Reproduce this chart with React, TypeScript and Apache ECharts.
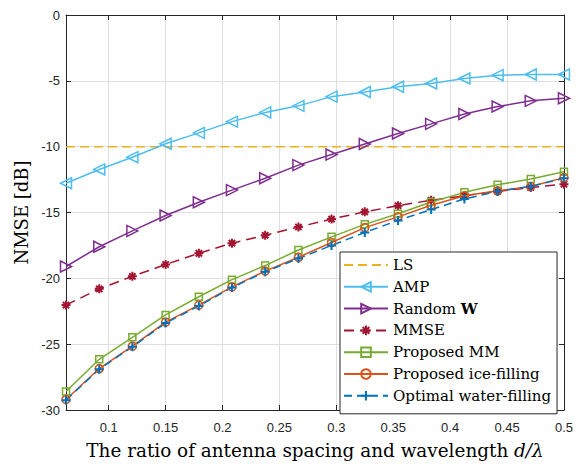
import React, { useEffect, useRef } from 'react';
import * as echarts from 'echarts';

const xValues = [0.0625, 0.0917, 0.1208, 0.15, 0.1792, 0.2083, 0.2375, 0.2667, 0.2958, 0.325, 0.3542, 0.3833, 0.4125, 0.4417, 0.4708, 0.5];
const lsValues = [-10, -10, -10, -10, -10, -10, -10, -10, -10, -10, -10, -10, -10, -10, -10, -10];
const ampValues = [-12.78, -11.73, -10.8, -9.78, -8.95, -8.1, -7.4, -6.9, -6.2, -5.85, -5.45, -5.2, -4.82, -4.57, -4.52, -4.52];
const randomWValues = [-19.1, -17.6, -16.4, -15.23, -14.22, -13.3, -12.4, -11.4, -10.6, -9.8, -9.0, -8.27, -7.52, -6.95, -6.52, -6.32];
const mmseValues = [-22.03, -20.8, -19.85, -18.95, -18.1, -17.33, -16.73, -16.1, -15.5, -14.95, -14.48, -14.07, -13.73, -13.4, -13.1, -12.85];
const mmValues = [-28.6, -26.15, -24.48, -22.78, -21.4, -20.1, -19.03, -17.85, -16.85, -15.9, -15.1, -14.2, -13.47, -12.9, -12.45, -11.9];
const iceValues = [-29.2, -26.85, -25.15, -23.33, -22.03, -20.65, -19.45, -18.4, -17.28, -16.15, -15.33, -14.45, -13.73, -13.35, -13.02, -12.35];
const waterValues = [-29.25, -26.9, -25.2, -23.4, -22.1, -20.7, -19.5, -18.5, -17.5, -16.52, -15.6, -14.78, -13.97, -13.4, -13.02, -12.4];
const xTickValues = [0.1, 0.15, 0.2, 0.25, 0.3, 0.35, 0.4, 0.45, 0.5];

const SERIF = '"DejaVu Serif", "Liberation Serif", serif';
const SANS = '"Liberation Sans", Arial, sans-serif';
const AXIS = '#262626';

const pair = (ys: number[]) => xValues.map((x, i) => [x, ys[i]]);

export default function App() {
  const ref = useRef<HTMLDivElement>(null);
  useEffect(() => {
    const chart = echarts.init(ref.current!, null, { renderer: 'svg' });
    const axisLine = { show: true, onZero: false, lineStyle: { color: AXIS, width: 1 } };
    const mk = (name: string, ys: number[], color: string, opts: any) => ({
      name,
      type: 'line',
      data: pair(ys),
      xAxisIndex: 0,
      yAxisIndex: 0,
      lineStyle: { color, width: 1.5, type: opts.dash || 'solid' },
      itemStyle: opts.itemStyle || { color: 'rgba(255,255,255,0)', borderColor: color, borderWidth: 1.5 },
      symbol: opts.symbol,
      symbolSize: opts.symbolSize,
      symbolRotate: opts.symbolRotate || 0,
      showSymbol: true,
      color,
    });
    const plusPath = 'path://M0,-1L0,1M-1,0L1,0';
    const starPath = 'path://M0,-1L0,1M-1,0L1,0M-0.7,-0.7L0.7,0.7M-0.7,0.7L0.7,-0.7';
    chart.setOption({
      animation: false,
      backgroundColor: '#ffffff',
      grid: { left: 66, right: 12, top: 15, bottom: 49, containLabel: false },
      legend: {
        orient: 'vertical',
        left: 340,
        top: 252,
        width: 220,
        backgroundColor: '#ffffff',
        borderColor: AXIS,
        borderWidth: 1,
        padding: [3, 6, 8, 3],
        itemWidth: 44,
        itemHeight: 12,
        itemGap: 1.8,
        borderRadius: 0,
        textStyle: {
          fontFamily: SERIF,
          fontSize: 15,
          color: '#000',
          lineHeight: 20,
          rich: { b: { fontFamily: SERIF, fontSize: 15, fontWeight: 'bold', color: '#000', lineHeight: 20 } },
        },
        formatter: (n: string) => (n === 'Random W' ? 'Random {b|W}' : n),
        data: ['LS', 'AMP', 'Random W', 'MMSE', 'Proposed MM', 'Proposed ice-filling', 'Optimal water-filling'],
      },
      xAxis: [
        {
          type: 'value',
          position: 'bottom',
          min: 0.0625,
          max: 0.5,
          axisLine,
          axisTick: { show: true, inside: true, length: 5, customValues: xTickValues, lineStyle: { color: AXIS } },
          axisLabel: {
            show: true,
            customValues: xTickValues,
            margin: 11,
            fontFamily: SANS,
            fontSize: 13,
            color: AXIS,
            formatter: (v: number) => String(Number(v.toFixed(2))),
          },
          splitLine: { show: true, lineStyle: { color: '#dfdfdf', width: 1 } },
          name: 'The ratio of antenna spacing and wavelength {i|d/λ}',
          nameLocation: 'middle',
          nameGap: 31,
          nameTextStyle: {
            fontFamily: SERIF,
            fontSize: 18.4,
            color: '#000',
            rich: { i: { fontFamily: SERIF, fontSize: 18.4, fontStyle: 'italic', color: '#000' } },
          },
        },
        {
          type: 'value',
          position: 'top',
          min: 0.0625,
          max: 0.5,
          axisLine,
          axisTick: { show: true, inside: true, length: 5, customValues: xTickValues, lineStyle: { color: AXIS } },
          axisLabel: { show: false },
          splitLine: { show: false },
        },
      ],
      yAxis: [
        {
          type: 'value',
          position: 'left',
          min: -30,
          max: 0,
          interval: 5,
          axisLine,
          axisTick: { show: true, inside: true, length: 5, lineStyle: { color: AXIS } },
          axisLabel: { margin: 6, fontFamily: SANS, fontSize: 13, color: AXIS },
          splitLine: { show: true, lineStyle: { color: '#dfdfdf', width: 1 } },
          name: 'NMSE [dB]',
          nameLocation: 'middle',
          nameGap: 34,
          nameRotate: 90,
          nameTextStyle: { fontFamily: SERIF, fontSize: 18, color: '#000' },
        },
        {
          type: 'value',
          position: 'right',
          min: -30,
          max: 0,
          interval: 5,
          axisLine,
          axisTick: { show: true, inside: true, length: 5, lineStyle: { color: AXIS } },
          axisLabel: { show: false },
          splitLine: { show: false },
        },
      ],
      series: [
        mk('LS', lsValues, '#EDB120', {
          dash: [9, 5],
          symbol: 'circle',
          symbolSize: 0,
          itemStyle: { color: 'rgba(0,0,0,0)', borderColor: 'rgba(0,0,0,0)', borderWidth: 0 },
        }),
        mk('AMP', ampValues, '#4DBEEE', { symbol: 'triangle', symbolSize: 11, symbolRotate: 90 }),
        mk('Random W', randomWValues, '#7E2F8E', { symbol: 'triangle', symbolSize: 11, symbolRotate: -90 }),
        mk('MMSE', mmseValues, '#A2142F', {
          dash: [10, 6],
          symbol: starPath,
          symbolSize: 9,
          itemStyle: { color: '#A2142F', borderColor: '#A2142F', borderWidth: 2 },
        }),
        mk('Proposed MM', mmValues, '#77AC30', { symbol: 'rect', symbolSize: 7 }),
        mk('Proposed ice-filling', iceValues, '#D95319', { symbol: 'circle', symbolSize: 8 }),
        mk('Optimal water-filling', waterValues, '#0072BD', {
          dash: [8, 5],
          symbol: plusPath,
          symbolSize: 9,
          itemStyle: { color: '#0072BD', borderColor: '#0072BD', borderWidth: 2 },
        }),
      ],
    });
    return () => chart.dispose();
  }, []);
  return <div ref={ref} style={{ position: 'absolute', left: 0, top: 0, width: 576, height: 464 }} />;
}
